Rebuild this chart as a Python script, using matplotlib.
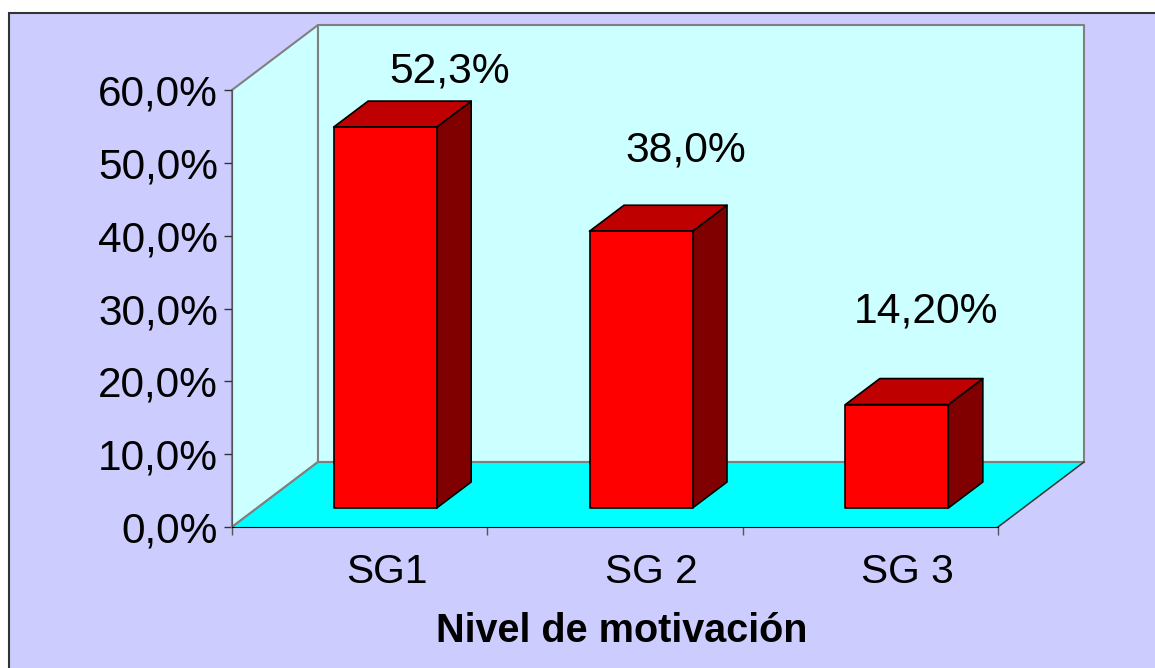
import matplotlib
matplotlib.use("Agg")
import matplotlib.pyplot as plt
from matplotlib.patches import Polygon, Rectangle

plt.rcParams['font.family'] = ['Liberation Sans', 'DejaVu Sans']

categories = ['SG1', 'SG 2', 'SG 3']
values = [52.3, 38.0, 14.2]
value_labels = ['52,3%', '38,0%', '14,20%']
y_ticks = [0, 10, 20, 30, 40, 50, 60]
y_tick_labels = ['0,0%', '10,0%', '20,0%', '30,0%', '40,0%', '50,0%', '60,0%']
x_label = 'Nivel de motivación'

W, H = 1155, 668
fig = plt.figure(figsize=(W / 100, H / 100), dpi=100, facecolor='white')

# chart panel, only left and top border are visible
fig.add_artist(Rectangle((8.5 / W, -0.1), 1.2, 1.1 - 13.5 / H, transform=fig.transFigure,
                         facecolor='#CCCCFF', edgecolor='#333333', linewidth=1.5, zorder=-1))

left, right, top, bottom = 232, 998, 90, 527
ax = fig.add_axes([left / W, 1 - bottom / H, (right - left) / W, (bottom - top) / H])
ax.set_xlim(0, 3)
ax.set_ylim(0, 60)
ax.patch.set_visible(False)

px_x = (right - left) / 3
px_y = (bottom - top) / 60


def pt(x, y, dx=0, dy=0):
    # data point moved by a depth offset given in pixels
    return (x + dx / px_x, y + dy / px_y)


def face(points, color, edge='black', lw=1.2, z=3):
    ax.add_patch(Polygon(points, closed=True, facecolor=color, edgecolor=edge,
                         linewidth=lw, joinstyle='round', clip_on=False, zorder=z))


depth_x, depth_y = 86, 65

# walls and floor
face([pt(0, 0), pt(0, 0, depth_x, depth_y), pt(0, 60, depth_x, depth_y), pt(0, 60)],
     '#CCFFFF', edge='#808080', lw=1.5, z=1)
face([pt(0, 60, depth_x, depth_y), pt(3, 60, depth_x, depth_y),
      pt(3, 0, depth_x, depth_y), pt(0, 0, depth_x, depth_y)],
     '#CCFFFF', edge='#808080', lw=1.5, z=1)
face([pt(0, 0), pt(3, 0), pt(3, 0, depth_x, depth_y), pt(0, 0, depth_x, depth_y)],
     '#00FFFF', edge='none', lw=0, z=1.5)
ax.plot(*zip(pt(0, 0), pt(0, 0, depth_x, depth_y)), color='#808080', lw=1.5, clip_on=False, zorder=2)
ax.plot(*zip(pt(0, 0, depth_x, depth_y), pt(3, 0, depth_x, depth_y)), color='#808080', lw=1.5,
        clip_on=False, zorder=2)
ax.plot(*zip(pt(3, 0), pt(3, 0, depth_x, depth_y)), color='#333333', lw=1.1, clip_on=False, zorder=2)

# bars
bar_w = 103 / px_x
shift_x = [25.5, 26, 26.5]
shift_y = 19
bar_dx, bar_dy = 34.5, 26
label_shift = [64.5, 44.5, 29.5]
label_rise = [56, 81, 93.5]
for i, v in enumerate(values):
    sx = shift_x[i]
    x0 = i + 0.5 - bar_w / 2
    x1 = x0 + bar_w
    a = pt(x0, 0, sx, shift_y)
    b = pt(x1, 0, sx, shift_y)
    c = pt(x1, v, sx, shift_y)
    d = pt(x0, v, sx, shift_y)
    b2 = pt(x1, 0, sx + bar_dx, shift_y + bar_dy)
    c2 = pt(x1, v, sx + bar_dx, shift_y + bar_dy)
    d2 = pt(x0, v, sx + bar_dx, shift_y + bar_dy)
    face([b, b2, c2, c], '#800000')
    face([d, c, c2, d2], '#BF0000')
    face([a, b, c, d], '#FF0000')
    lx, ly = pt(i + 0.5, v, sx + label_shift[i], shift_y + label_rise[i])
    ax.text(lx, ly, value_labels[i], ha='center', va='center', fontsize=30.7, color='black',
            clip_on=False, zorder=5)

for name in ('top', 'right'):
    ax.spines[name].set_visible(False)
ax.spines['left'].set_color('#555555')
ax.spines['left'].set_zorder(4)
ax.spines['bottom'].set_color('black')
ax.spines['bottom'].set_zorder(4)

ax.set_yticks(y_ticks, labels=y_tick_labels)
ax.tick_params(axis='y', length=6, width=1, color='#333333', pad=4, labelsize=30.5)
ax.set_xticks([0, 1, 2, 3], labels=[])
ax.tick_params(axis='x', length=5.8, width=1, color='#555555')
# category names sit a bit off the centre of the slots
ax.set_xticks([0.608, 1.642, 2.645], labels=categories, minor=True)
ax.tick_params(axis='x', which='minor', length=0, pad=18.5, labelsize=29.3)

fig.text(622 / W, 1 - 631 / H, x_label, ha='center', va='center', fontsize=28.5,
         fontweight='bold', color='black')

plt.savefig('out.png', dpi=100)
